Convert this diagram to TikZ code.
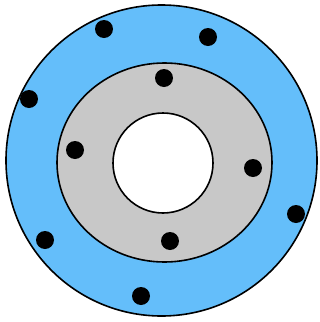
\documentclass[tikz,border=0pt]{standalone}
\definecolor{ringblue}{RGB}{100,190,250}
\definecolor{ringgray}{RGB}{200,200,200}
\begin{document}
\begin{tikzpicture}[x=1pt,y=-1pt,
  ring/.style={draw=black,line width=1.6pt},
  dot/.style={circle,fill=black,inner sep=0pt,minimum size=18pt}]
\useasboundingbox (0,0) rectangle (320,322);
\filldraw[ring,fill=ringblue] (161.5,160.5) circle[radius=155.5];
\filldraw[ring,fill=ringgray] (164.5,162.5) ellipse[x radius=107.5,y radius=99.5];
\filldraw[ring,fill=white] (163,163) circle[radius=50];
\node[dot] (d1) at (104,29) {};
\node[dot] (d2) at (208,37) {};
\node[dot] (d3) at (29,99) {};
\node[dot] (d4) at (164,78) {};
\node[dot] (d5) at (75,150) {};
\node[dot] (d6) at (253,168) {};
\node[dot] (d7) at (296,214) {};
\node[dot] (d8) at (45,240) {};
\node[dot] (d9) at (170,241) {};
\node[dot] (d10) at (141,296) {};
\end{tikzpicture}
\end{document}
